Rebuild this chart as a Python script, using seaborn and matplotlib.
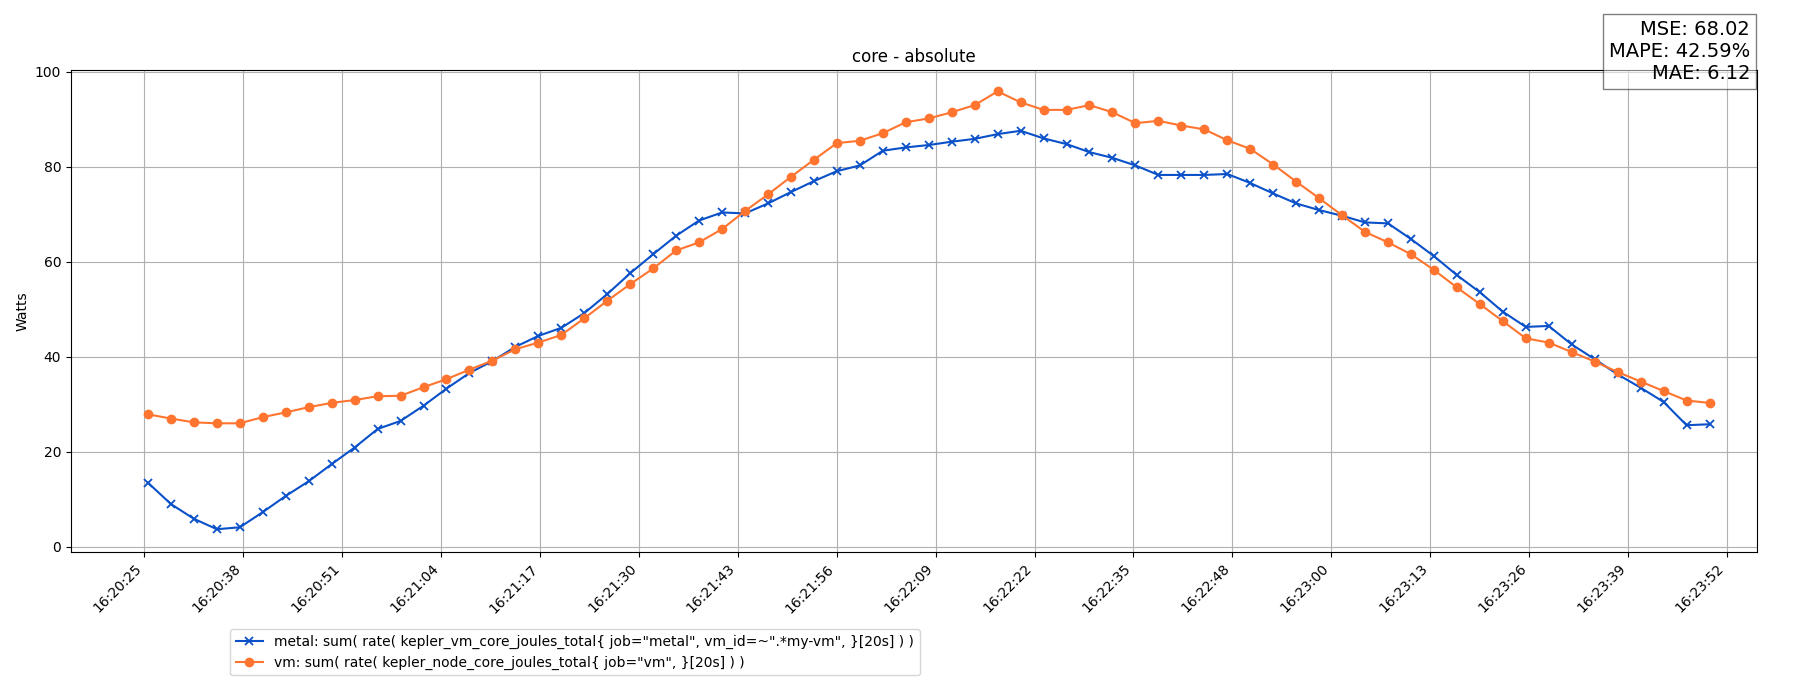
import numpy as np
import matplotlib
matplotlib.use("Agg")
import matplotlib.pyplot as plt
import seaborn as sns

# ---- data (seconds after 16:20:00, sampled every 3 s) ----
start_sec = 26.35
step_sec = 3.0
metal = [13.5, 9.0, 5.9, 3.7, 4.1, 7.3, 10.7, 13.8, 17.4, 20.9, 24.8, 26.5, 29.7, 33.3,
         36.6, 39.1, 42.1, 44.4, 46.1, 49.2, 53.2, 57.6, 61.6, 65.5, 68.7, 70.4, 70.2,
         72.3, 74.7, 77.0, 79.1, 80.3, 83.4, 84.1, 84.6, 85.3, 85.9, 86.9, 87.6, 86.0,
         84.8, 83.1, 81.9, 80.3, 78.3, 78.3, 78.3, 78.5, 76.6, 74.4, 72.3, 70.9, 69.7,
         68.3, 68.1, 64.8, 61.2, 57.2, 53.6, 49.5, 46.3, 46.5, 42.6, 39.5, 36.3, 33.5,
         30.5, 25.6, 25.8]
vm = [27.9, 27.0, 26.2, 26.0, 26.0, 27.3, 28.3, 29.4, 30.3, 30.9, 31.7, 31.8, 33.6, 35.3,
      37.3, 39.2, 41.6, 43.0, 44.6, 48.1, 51.8, 55.3, 58.6, 62.4, 64.1, 66.9, 70.7, 74.2,
      77.9, 81.5, 85.0, 85.5, 87.1, 89.4, 90.2, 91.5, 93.0, 95.9, 93.6, 92.0, 92.0, 93.0,
      91.5, 89.2, 89.7, 88.7, 87.9, 85.6, 83.8, 80.5, 76.9, 73.4, 69.8, 66.3, 64.1, 61.6,
      58.3, 54.6, 51.1, 47.5, 43.9, 43.0, 41.0, 39.0, 36.8, 34.8, 32.8, 30.8, 30.3]
tick_labels = ["16:20:25", "16:20:38", "16:20:51", "16:21:04", "16:21:17", "16:21:30",
               "16:21:43", "16:21:56", "16:22:09", "16:22:22", "16:22:35", "16:22:48",
               "16:23:00", "16:23:13", "16:23:26", "16:23:39", "16:23:52"]
metal_label = 'metal: sum( rate( kepler_vm_core_joules_total{ job="metal", vm_id=~".*my-vm", }[20s] ) )'
vm_label = 'vm: sum( rate( kepler_node_core_joules_total{ job="vm", }[20s] ) )'
title = "core - absolute"
ylabel = "Watts"
stats_text = "MSE: 68.02\nMAPE: 42.59%\nMAE: 6.12"

t = start_sec + step_sec * np.arange(len(metal))

BLUE = "#0a50c8"
ORANGE = "#ff7530"

DPI = 100
fig = plt.figure(figsize=(18, 7), dpi=DPI)
ax = fig.add_axes([71 / 1800, 1 - 552 / 700, (1756.6 - 71) / 1800, (552 - 70) / 700])

sns.lineplot(x=t, y=metal, ax=ax, color=BLUE, marker="x", markersize=6,
             markeredgecolor=BLUE, markeredgewidth=1.3, linewidth=1.5, label=metal_label)
sns.lineplot(x=t, y=vm, ax=ax, color=ORANGE, marker="o", markersize=6,
             markeredgecolor=ORANGE, markeredgewidth=1.0, linewidth=1.5, label=vm_label)

ax.set_xlim(16.3, 236.5)
ax.set_ylim(-1.1, 100.4)
ax.set_yticks([0, 20, 40, 60, 80, 100])
ticks = np.linspace(25.9, 232.62, len(tick_labels))
ax.set_xticks(ticks)
ax.set_xticklabels(tick_labels, rotation=45, ha="right")
ax.grid(True, color="#b0b0b0", linewidth=0.8)
ax.set_axisbelow(True)
ax.set_title(title, fontsize=12)
ax.set_ylabel(ylabel, fontsize=10)
ax.set_xlabel("")

ax.legend(loc="upper left", bbox_to_anchor=(230 / 1800, 1 - 629 / 700),
          bbox_transform=fig.transFigure, borderaxespad=0, fontsize=10)

fig.text(1750 / 1800, 1 - 20 / 700, stats_text, ha="right", va="top", fontsize=14,
         multialignment="right",
         bbox=dict(facecolor="white", alpha=0.5, edgecolor="black"))

fig.savefig("out.png", dpi=DPI)
